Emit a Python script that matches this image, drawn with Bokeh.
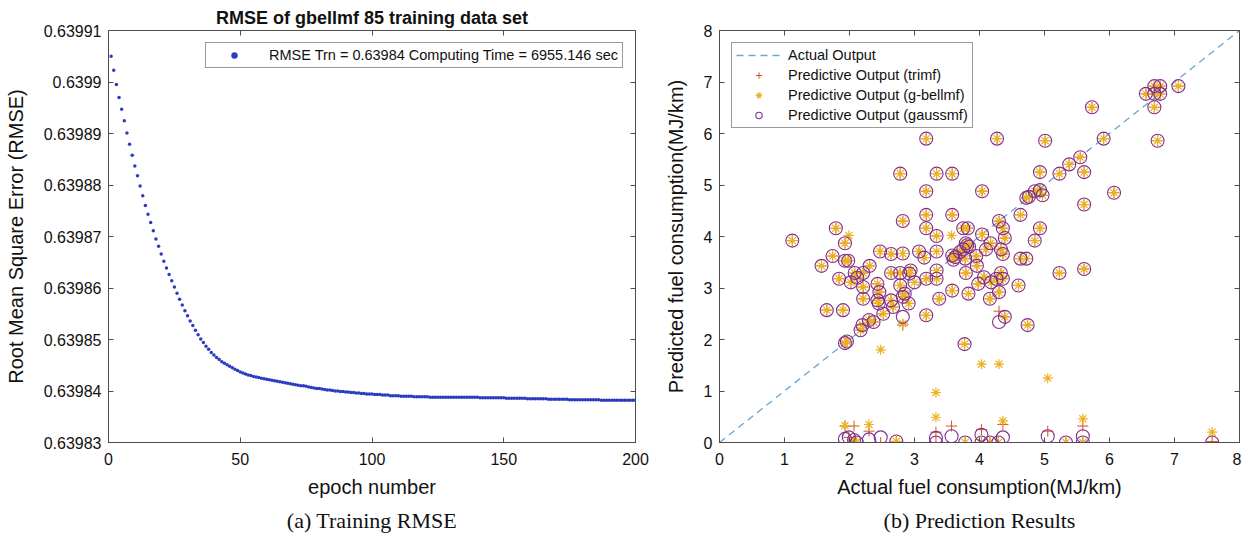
from bokeh.plotting import figure
from bokeh.layouts import row
from bokeh.models import (Range1d, LinearAxis, FixedTicker, CustomJSTickFormatter,
                          Legend, LegendItem, Title)
from bokeh.embed import file_html
from bokeh.resources import INLINE

SANS = "Liberation Sans"
SERIF = "Liberation Serif"

# ---------------- data: (a) training RMSE ----------------
epochs = list(range(1, 201))
rmse = [
    0.6399050, 0.6399023, 0.6398995, 0.6398970, 0.6398947, 0.6398925, 0.6398901, 0.6398879, 0.6398858, 0.6398837,
    0.6398818, 0.6398798, 0.6398779, 0.6398760, 0.6398743, 0.6398727, 0.6398711, 0.6398695, 0.6398681, 0.6398666,
    0.6398652, 0.6398639, 0.6398626, 0.6398614, 0.6398602, 0.6398590, 0.6398578, 0.6398567, 0.6398556, 0.6398546,
    0.6398536, 0.6398527, 0.6398518, 0.6398509, 0.6398501, 0.6398494, 0.6398487, 0.6398481, 0.6398475, 0.6398470,
    0.6398465, 0.6398461, 0.6398457, 0.6398454, 0.6398451, 0.6398448, 0.6398445, 0.6398442, 0.6398440, 0.6398437,
    0.6398435, 0.6398433, 0.6398431, 0.6398430, 0.6398428, 0.6398427, 0.6398426, 0.6398425, 0.6398424, 0.6398423,
    0.6398422, 0.6398421, 0.6398420, 0.6398419, 0.6398418, 0.6398417, 0.6398416, 0.6398415, 0.6398414, 0.6398413,
    0.6398412, 0.6398411, 0.6398410, 0.6398410, 0.6398409, 0.6398408, 0.6398407, 0.6398406, 0.6398405, 0.6398405,
    0.6398404, 0.6398403, 0.6398402, 0.6398402, 0.6398401, 0.6398400, 0.6398400, 0.6398399, 0.6398399, 0.6398398,
    0.6398398, 0.6398397, 0.6398397, 0.6398396, 0.6398396, 0.6398395, 0.6398395, 0.6398394, 0.6398394, 0.6398394,
    0.6398393, 0.6398393, 0.6398393, 0.6398392, 0.6398392, 0.6398392, 0.6398391, 0.6398391, 0.6398391, 0.6398391,
    0.6398390, 0.6398390, 0.6398390, 0.6398390, 0.6398390, 0.6398389, 0.6398389, 0.6398389, 0.6398389, 0.6398389,
    0.6398389, 0.6398388, 0.6398388, 0.6398388, 0.6398388, 0.6398388, 0.6398388, 0.6398388, 0.6398388, 0.6398388,
    0.6398388, 0.6398388, 0.6398388, 0.6398388, 0.6398388, 0.6398388, 0.6398388, 0.6398388, 0.6398388, 0.6398388,
    0.6398387, 0.6398387, 0.6398387, 0.6398387, 0.6398387, 0.6398387, 0.6398387, 0.6398387, 0.6398387, 0.6398387,
    0.6398386, 0.6398386, 0.6398386, 0.6398386, 0.6398386, 0.6398386, 0.6398386, 0.6398386, 0.6398385, 0.6398385,
    0.6398385, 0.6398385, 0.6398385, 0.6398385, 0.6398385, 0.6398385, 0.6398384, 0.6398384, 0.6398384, 0.6398384,
    0.6398384, 0.6398384, 0.6398384, 0.6398384, 0.6398383, 0.6398383, 0.6398383, 0.6398383, 0.6398383, 0.6398383,
    0.6398383, 0.6398383, 0.6398383, 0.6398383, 0.6398383, 0.6398383, 0.6398382, 0.6398382, 0.6398382, 0.6398382,
    0.6398382, 0.6398382, 0.6398382, 0.6398382, 0.6398382, 0.6398382, 0.6398382, 0.6398382, 0.6398382, 0.6398382,
]
epoch_ticks = [0, 50, 100, 150, 200]
rmse_ticks = [0.63983, 0.63984, 0.63985, 0.63986, 0.63987, 0.63988, 0.63989, 0.63990, 0.63991]

# ---------------- data: (b) prediction results ----------------
# points where all three models give (nearly) the same prediction
actual_common = [
    7.06, 6.56, 6.69, 6.78, 6.69, 6.78, 6.69, 6.74, 5.73, 5.91,
    3.18, 4.27, 5.01, 5.55, 5.38, 5.61, 5.23, 4.93, 2.78, 3.34,
    3.58, 3.18, 4.04, 6.07, 5.61, 4.72, 4.76, 4.85, 4.93, 4.97,
    4.63, 3.18, 3.58, 4.30, 2.82, 4.36, 3.18, 1.79, 3.75, 3.82,
    4.93, 3.34, 4.04, 4.39, 4.85, 1.12, 3.79, 3.75, 3.84, 4.17,
    3.95, 4.10, 4.33, 4.36, 4.63, 4.72, 5.23, 5.61, 2.47, 2.64,
    2.82, 3.07, 3.15, 3.34, 3.58, 3.63, 2.31, 1.57, 1.74, 1.93,
    1.98, 2.08, 2.21, 1.84, 2.64, 2.78, 2.94, 3.34, 3.79, 3.96,
    4.07, 4.33, 2.02, 2.21, 2.21, 2.43, 2.46, 2.43, 2.45, 2.52,
    2.64, 2.67, 2.82, 2.85, 2.92, 3.00, 2.91, 2.78, 3.18, 3.34,
    3.18, 3.38, 3.58, 3.83, 3.98, 4.18, 4.16, 4.30, 4.26, 4.36,
    4.39, 4.74, 4.60, 3.77, 1.96, 1.93, 2.17, 2.20, 2.37, 1.65,
    1.90, 3.78, 3.81, 3.70, 3.60, 1.93, 2.12, 2.30,
]
predicted_common = [
    6.92, 6.77, 6.92, 6.92, 6.77, 6.77, 6.51, 5.86, 6.51, 5.90,
    5.90, 5.90, 5.86, 5.54, 5.40, 5.25, 5.22, 5.25, 5.22, 5.22,
    5.22, 4.88, 4.88, 4.85, 4.62, 4.75, 4.77, 4.88, 4.90, 4.80,
    4.42, 4.42, 4.42, 4.30, 4.30, 4.16, 4.16, 4.16, 4.16, 4.16,
    4.16, 4.01, 4.04, 3.97, 3.92, 3.92, 3.87, 3.75, 3.80, 3.87,
    3.62, 3.75, 3.75, 3.66, 3.57, 3.57, 3.29, 3.37, 3.71, 3.66,
    3.67, 3.71, 3.59, 3.71, 3.63, 3.60, 3.43, 3.43, 3.62, 3.53,
    3.53, 3.29, 3.29, 3.18, 3.29, 3.29, 3.34, 3.34, 3.29, 3.43,
    3.21, 3.29, 3.11, 3.02, 2.79, 3.08, 2.92, 2.76, 2.70, 2.50,
    2.76, 2.63, 2.83, 2.89, 3.28, 3.11, 2.70, 3.05, 3.18, 3.18,
    2.47, 2.79, 2.95, 2.89, 3.08, 3.11, 2.79, 2.92, 3.18, 3.18,
    2.44, 2.28, 3.05, 1.91, 1.96, 1.93, 2.18, 2.28, 2.34, 2.57,
    2.57, 3.57, 3.83, 3.70, 3.55, 3.87, 3.20, 2.38,
]
# points where the three models disagree
actual_diff = [1.93, 1.99, 2.07, 2.11, 2.30, 2.48, 2.72, 3.33, 3.33, 3.57, 3.78, 4.03,
               4.03, 4.16, 4.29, 4.36, 5.05, 5.33, 5.59, 5.59, 7.58, 2.82, 4.30]
trimf_diff = [0.32, 0.10, 0.32, 0.00, 0.22, 0.00, 0.02, 0.20, 0.00, 0.32, 0.00, 0.25,
              0.00, 0.00, 0.00, 0.35, 0.22, 0.00, 0.32, 0.00, 0.02, 2.28, 2.55]
gbell_diff = [0.33, 4.02, 0.05, 0.00, 0.35, 1.80, 0.02, 0.97, 0.49, 4.02, 0.00, 1.52,
              0.00, 0.00, 0.00, 0.42, 1.25, 0.00, 0.46, 0.00, 0.20, 2.31, 1.52]
gauss_diff = [0.07, 0.10, 0.05, 0.00, 0.06, 0.10, 0.02, 0.09, 0.00, 0.12, 0.00, 0.15,
              0.00, 0.00, 0.00, 0.10, 0.12, 0.00, 0.12, 0.00, 0.00, 2.44, 2.34]
ideal_line = [0, 8]
fuel_ticks = [0, 1, 2, 3, 4, 5, 6, 7, 8]

actual_all = actual_common + actual_diff
trimf_all = predicted_common + trimf_diff
gbell_all = predicted_common + gbell_diff
gauss_all = predicted_common + gauss_diff

AX = "#4d4d4d"
TXT = "#111111"


def style_main_axis(ax, ticks, label_standoff, axis_label_standoff):
    ax.ticker = FixedTicker(ticks=ticks)
    ax.major_tick_in = 5
    ax.major_tick_out = 0
    ax.minor_tick_line_color = None
    ax.axis_line_color = AX
    ax.major_tick_line_color = AX
    ax.major_label_text_font = SANS
    ax.major_label_text_font_size = "16px"
    ax.major_label_text_color = TXT
    ax.major_label_standoff = label_standoff
    ax.axis_label_text_font = SANS
    ax.axis_label_text_font_size = "20px"
    ax.axis_label_text_font_style = "normal"
    ax.axis_label_text_color = TXT
    ax.axis_label_standoff = axis_label_standoff


def add_mirror(p, ticks, side):
    ax = LinearAxis(ticker=FixedTicker(ticks=ticks), major_tick_in=5, major_tick_out=0,
                    minor_tick_line_color=None, axis_line_color=AX, major_tick_line_color=AX,
                    formatter=CustomJSTickFormatter(code="return '';"),
                    major_label_text_color=None, major_label_standoff=0,
                    axis_label_standoff=0)
    p.add_layout(ax, side)


# ---------------- (a) ----------------
p1 = figure(width=650, height=538, output_backend="svg", toolbar_location=None,
            x_range=Range1d(0, 200), y_range=Range1d(0.63983, 0.63991),
            min_border_left=108, min_border_right=15, min_border_top=30, min_border_bottom=90)
p1.xgrid.visible = False
p1.ygrid.visible = False
p1.outline_line_color = AX
style_main_axis(p1.xaxis[0], epoch_ticks, 10, 8)
style_main_axis(p1.yaxis[0], rmse_ticks, 7, 14)
p1.yaxis[0].formatter = CustomJSTickFormatter(code="return tick.toFixed(5).replace(/0+$/, '');")
p1.xaxis.axis_label = "epoch number"
p1.yaxis.axis_label = "Root Mean Square Error (RMSE)"
add_mirror(p1, epoch_ticks, "above")
add_mirror(p1, rmse_ticks, "right")

p1.title.text = "RMSE of gbellmf 85 training data set"
p1.title.align = "center"
p1.title.text_font = SANS
p1.title.text_font_size = "18px"
p1.title.text_font_style = "bold"
p1.title.text_color = TXT
p1.title.standoff = 5

r_rmse = p1.scatter(epochs, rmse, size=3.5, color="#2b3bc0", line_color=None)
leg1 = Legend(items=[LegendItem(label="RMSE Trn = 0.63984 Computing Time = 6955.146 sec",
                                renderers=[r_rmse])],
              location="top_right", margin=12, padding=4, spacing=4,
              glyph_width=48, glyph_height=16, label_height=16, label_standoff=11,
              label_text_font=SANS, label_text_font_size="14.5px", label_text_color=TXT,
              border_line_color="#333333", border_line_width=1)
p1.add_layout(leg1)
p1.add_layout(Title(text="(a) Training RMSE", align="center", text_font=SERIF,
                    text_font_size="22px", text_font_style="normal", text_color=TXT,
                    standoff=11), "below")

# ---------------- (b) ----------------
p2 = figure(width=591, height=538, output_backend="svg", toolbar_location=None,
            x_range=Range1d(0, 8), y_range=Range1d(0, 8),
            min_border_left=69, min_border_right=2, min_border_top=30, min_border_bottom=90)
p2.xgrid.visible = False
p2.ygrid.visible = False
p2.outline_line_color = AX
style_main_axis(p2.xaxis[0], fuel_ticks, 10, 8)
style_main_axis(p2.yaxis[0], fuel_ticks, 7, 14)
p2.xaxis.axis_label = "Actual fuel consumption(MJ/km)"
p2.yaxis.axis_label = "Predicted fuel consumption(MJ/km)"
add_mirror(p2, fuel_ticks, "above")
add_mirror(p2, fuel_ticks, "right")

r_line = p2.line(ideal_line, ideal_line, line_color="#6aa5cf", line_width=1.3, line_dash="7 5")
r_tri = p2.scatter(actual_all, trimf_all, marker="cross", size=11, line_color="#D95319", line_width=1)
r_gb = p2.scatter(actual_all, gbell_all, marker="asterisk", size=10, line_color="#EDB120", line_width=1.2)
r_ga = p2.scatter(actual_all, gauss_all, marker="circle", size=13, fill_color=None,
                  line_color="#7E2F8E", line_width=1.1)

leg2 = Legend(items=[LegendItem(label="Actual Output", renderers=[r_line]),
                     LegendItem(label="Predictive Output (trimf)", renderers=[r_tri]),
                     LegendItem(label="Predictive Output (g-bellmf)", renderers=[r_gb]),
                     LegendItem(label="Predictive Output (gaussmf)", renderers=[r_ga])],
              location="top_left", margin=12, padding=4, spacing=4,
              glyph_width=45, glyph_height=16, label_height=16, label_standoff=7,
              label_text_font=SANS, label_text_font_size="14.5px", label_text_color=TXT,
              border_line_color="#333333", border_line_width=1)
p2.add_layout(leg2)
p2.add_layout(Title(text="(b) Prediction Results", align="center", text_font=SERIF,
                    text_font_size="22px", text_font_style="normal", text_color=TXT,
                    standoff=11), "below")

layout = row(p1, p2)
open("out.html", "w").write(file_html(layout, INLINE))
